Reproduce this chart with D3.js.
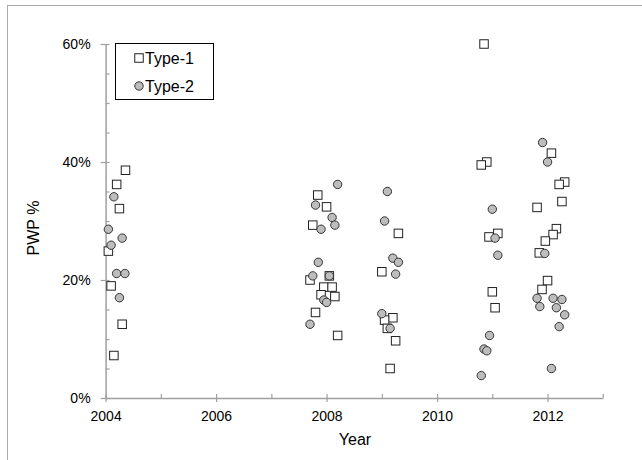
<!DOCTYPE html>
<html>
<head>
<meta charset="utf-8">
<script src="https://cdn.jsdelivr.net/npm/d3@7"></script>
<style>
  body { margin: 0; background: #fff; }
  svg { display: block; font-family: "Liberation Sans", Arial, sans-serif; }
</style>
</head>
<body>
<svg id="chart" width="642" height="460"></svg>
<script>
// sampled years (jittered within each campaign) and PWP fractions
const type1Years = [2004.36, 2004.20, 2004.25, 2004.05, 2004.10, 2004.30, 2004.15,
  2007.84, 2008.00, 2007.75, 2007.70, 2008.05, 2007.95, 2008.10, 2007.90, 2008.15, 2007.80, 2008.20,
  2009.30, 2009.00, 2009.20, 2009.05, 2009.10, 2009.25, 2009.15,
  2010.85, 2010.90, 2010.80, 2010.94, 2011.10, 2011.00, 2011.05,
  2012.07, 2012.31, 2012.21, 2012.26, 2011.81, 2012.16, 2012.10, 2011.96, 2011.85, 2012.00, 2011.90];
const type1Pwp = [38.6, 36.2, 32.1, 24.9, 19.0, 12.5, 7.2,
  34.4, 32.4, 29.3, 20.0, 20.7, 18.8, 18.8, 17.5, 17.2, 14.5, 10.6,
  27.9, 21.4, 13.6, 13.2, 11.8, 9.7, 5.0,
  60.0, 40.0, 39.5, 27.3, 27.9, 18.0, 15.3,
  41.5, 36.6, 36.2, 33.3, 32.3, 28.7, 27.7, 26.6, 24.6, 19.9, 18.4];

const type2Years = [2004.15, 2004.05, 2004.10, 2004.30, 2004.20, 2004.35, 2004.25,
  2008.20, 2007.80, 2008.10, 2008.15, 2007.90, 2007.85, 2007.75, 2008.05, 2007.95, 2008.00, 2007.70,
  2009.10, 2009.05, 2009.20, 2009.30, 2009.25, 2009.00, 2009.15,
  2011.00, 2011.05, 2011.10, 2010.95, 2010.85, 2010.90, 2010.80,
  2011.91, 2012.00, 2011.95, 2011.81, 2012.10, 2012.26, 2011.86, 2012.16, 2012.31, 2012.21, 2012.07];
const type2Pwp = [34.1, 28.6, 25.9, 27.1, 21.1, 21.1, 17.0,
  36.2, 32.7, 30.6, 29.3, 28.6, 23.0, 20.7, 20.7, 16.6, 16.2, 12.5,
  35.0, 30.0, 23.7, 23.0, 21.0, 14.3, 11.8,
  32.0, 27.1, 24.2, 10.6, 8.3, 8.0, 3.8,
  43.3, 40.0, 24.5, 16.9, 16.9, 16.7, 15.5, 15.3, 14.1, 12.1, 5.0];

const yearTicks = d3.range(2004, 2014);
const pctTicks = d3.range(0, 61, 5);

const svg = d3.select('#chart');

// outer frame (only top/left visible in the picture)
svg.append('rect')
  .attr('x', 7.5).attr('y', 5.5).attr('width', 700).attr('height', 500)
  .attr('fill', 'none').attr('stroke', '#aaa');

const x = d3.scaleLinear().domain([2004, 2013]).range([105.6, 602.8]);
const y = d3.scaleLinear().domain([0, 60]).range([398, 44]);

// x axis
const xAxis = svg.append('g')
  .attr('transform', 'translate(0,398)')
  .call(d3.axisBottom(x)
    .tickValues(yearTicks)
    .tickFormat(d => (d % 2 === 0 && d < 2013) ? d : '')
    .tickSizeOuter(0));
xAxis.selectAll('.tick line')
  .attr('y1', d => d % 2 === 0 ? -4 : -4)
  .attr('y2', d => d % 2 === 0 ? 4 : 0);
xAxis.selectAll('.tick text').attr('y', 13).attr('dy', '0.71em');

// y axis
const yAxis = svg.append('g')
  .attr('transform', 'translate(105.6,0)')
  .call(d3.axisLeft(y)
    .tickValues(pctTicks)
    .tickFormat(d => d % 20 === 0 ? d + '%' : '')
    .tickSizeOuter(0));
yAxis.selectAll('.tick line')
  .attr('x1', d => d % 20 === 0 ? -5 : 0)
  .attr('x2', 4);
yAxis.selectAll('.tick text').attr('x', -15);

svg.selectAll('.domain').attr('stroke', '#a0a0a0').attr('stroke-width', 1.5);
svg.selectAll('.tick line').attr('stroke', '#a0a0a0').attr('stroke-width', 1.2);
svg.selectAll('.tick text')
  .attr('fill', '#000')
  .attr('font-size', 14)
  .attr('font-family', '"Liberation Sans", Arial, sans-serif');

// axis titles
svg.append('text')
  .attr('x', 355).attr('y', 445)
  .attr('text-anchor', 'middle')
  .attr('font-size', 16)
  .text('Year');
svg.append('text')
  .attr('transform', 'translate(39,228) rotate(-90)')
  .attr('text-anchor', 'middle')
  .attr('font-size', 16)
  .text('PWP %');

// points
const type1 = type1Years.map((yr, i) => ({ yr, v: type1Pwp[i] }));
const type2 = type2Years.map((yr, i) => ({ yr, v: type2Pwp[i] }));
const sq = 8.5;

svg.append('g').selectAll('rect')
  .data(type1)
  .enter()
  .append('rect')
  .attr('x', d => x(d.yr) - sq / 2)
  .attr('y', d => y(d.v) - sq / 2)
  .attr('width', sq).attr('height', sq)
  .attr('fill', '#fff')
  .attr('stroke', '#222')
  .attr('stroke-width', 1);

svg.append('g').selectAll('circle')
  .data(type2)
  .enter()
  .append('circle')
  .attr('cx', d => x(d.yr))
  .attr('cy', d => y(d.v))
  .attr('r', 4.2)
  .attr('fill', '#bdbdbd')
  .attr('stroke', '#333')
  .attr('stroke-width', 1);

// legend
const legend = svg.append('g');
legend.append('rect')
  .attr('x', 115.5).attr('y', 43.5).attr('width', 98).attr('height', 56)
  .attr('fill', '#fff').attr('stroke', '#000');
legend.append('rect')
  .attr('x', 139 - sq / 2).attr('y', 58 - sq / 2).attr('width', sq).attr('height', sq)
  .attr('fill', '#fff').attr('stroke', '#222');
legend.append('circle')
  .attr('cx', 139).attr('cy', 86).attr('r', 4.2)
  .attr('fill', '#bdbdbd').attr('stroke', '#333');
legend.append('text').attr('x', 145).attr('y', 64).attr('font-size', 16).text('Type-1');
legend.append('text').attr('x', 145).attr('y', 92).attr('font-size', 16).text('Type-2');
</script>
</body>
</html>
